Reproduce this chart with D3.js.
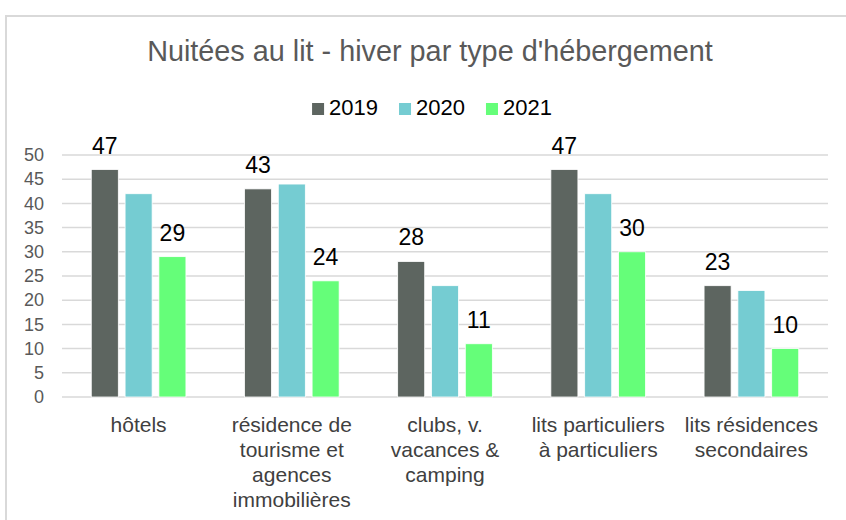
<!DOCTYPE html>
<html>
<head>
<meta charset="utf-8">
<script src="https://cdn.jsdelivr.net/npm/d3@7"></script>
<style>
  body { margin: 0; background: #fff; }
  svg { display: block; font-family: "Liberation Sans", Arial, sans-serif; }
</style>
</head>
<body>
<div id="chart"></div>
<script>
// data
var categories = ["hôtels", "résidence de tourisme et agences immobilières", "clubs, v. vacances & camping", "lits particuliers à particuliers", "lits résidences secondaires"];
// wrapped label lines, as in the picture
var categoryLines = [
    ["hôtels"],
    ["résidence de", "tourisme et", "agences", "immobilières"],
    ["clubs, v.", "vacances &", "camping"],
    ["lits particuliers", "à particuliers"],
    ["lits résidences", "secondaires"]
];
var years = ["2019", "2020", "2021"];
var values2019 = [47, 43, 28, 47, 23];
var values2020 = [42, 44, 23, 42, 22];
var values2021 = [29, 24, 11, 30, 10];
var yTicks = [0, 5, 10, 15, 20, 25, 30, 35, 40, 45, 50];
var labelledYears = ["2019", "2021"];   // only these carry data labels

var colors = {"2019": "#5d6560", "2020": "#75ccd2", "2021": "#65fe79"};

var width = 846, height = 520;
var plot = {left: 62, right: 828, top: 155, bottom: 397};

var svg = d3.select("#chart").append("svg")
    .attr("width", width)
    .attr("height", height);

// outer frame (runs off the right and bottom)
svg.append("rect")
    .attr("x", 6).attr("y", 16)
    .attr("width", 900).attr("height", 600)
    .attr("fill", "none")
    .attr("stroke", "#d9d9d9")
    .attr("stroke-width", 2);

// title
svg.append("text")
    .attr("x", 430).attr("y", 61)
    .attr("text-anchor", "middle")
    .attr("font-size", 28.8)
    .attr("fill", "#595959")
    .text("Nuitées au lit - hiver par type d'hébergement");

// scales
var x0 = d3.scaleBand()
    .domain(categories)
    .range([plot.left, plot.right])
    .paddingInner(0.382)
    .paddingOuter(0.191);

var x1 = d3.scaleBand()
    .domain(years)
    .range([0, x0.bandwidth()])
    .paddingInner(0.2);

var yScale = d3.scaleLinear()
    .domain([0, 50])
    .range([plot.bottom, plot.top]);

// gridlines
svg.append("g").selectAll("line")
    .data(yTicks)
    .enter()
    .append("line")
    .attr("x1", plot.left).attr("x2", plot.right)
    .attr("y1", function(d) { return yScale(d); })
    .attr("y2", function(d) { return yScale(d); })
    .attr("stroke", "#d9d9d9")
    .attr("stroke-width", 1.5);

// y axis labels
var yAxis = d3.axisLeft(yScale)
    .tickValues(yTicks)
    .tickSize(0)
    .tickPadding(0);
var yg = svg.append("g")
    .attr("transform", "translate(44,0)")
    .call(yAxis);
yg.select(".domain").remove();
yg.selectAll("text")
    .attr("font-size", 18)
    .attr("font-family", "Liberation Sans, Arial, sans-serif")
    .attr("fill", "#595959");

// bars
var seriesValues = {"2019": values2019, "2020": values2020, "2021": values2021};
var rows = [];
categories.forEach(function(c, i) {
    years.forEach(function(yr) {
        rows.push({cat: c, year: yr, value: seriesValues[yr][i]});
    });
});

svg.append("g").selectAll("rect")
    .data(rows)
    .enter()
    .append("rect")
    .attr("x", function(d) { return x0(d.cat) + x1(d.year); })
    .attr("y", function(d) { return yScale(d.value); })
    .attr("width", x1.bandwidth())
    .attr("height", function(d) { return plot.bottom - yScale(d.value); })
    .attr("fill", function(d) { return colors[d.year]; })
    .attr("stroke", "#ffffff")
    .attr("stroke-width", 0.8);

// data labels
svg.append("g").selectAll("text")
    .data(rows.filter(function(d) { return labelledYears.indexOf(d.year) >= 0; }))
    .enter()
    .append("text")
    .attr("x", function(d) { return x0(d.cat) + x1(d.year) + x1.bandwidth() / 2; })
    .attr("y", function(d) { return yScale(d.value) - 16; })
    .attr("text-anchor", "middle")
    .attr("font-size", 23)
    .attr("fill", "#000")
    .text(function(d) { return d.value; });

// category labels
var catG = svg.append("g").selectAll("text")
    .data(categories)
    .enter()
    .append("text")
    .attr("text-anchor", "middle")
    .attr("font-size", 21)
    .attr("fill", "#404040");
catG.each(function(c, i) {
    var t = d3.select(this);
    categoryLines[i].forEach(function(line, j) {
        t.append("tspan")
            .attr("x", x0(c) + x0.bandwidth() / 2)
            .attr("y", 432 + j * 25)
            .text(line);
    });
});

// legend
var legend = svg.append("g");
var lx = 0;
years.forEach(function(yr) {
    legend.append("rect")
        .attr("x", lx).attr("y", 103)
        .attr("width", 12).attr("height", 12)
        .attr("fill", colors[yr]);
    var t = legend.append("text")
        .attr("x", lx + 17).attr("y", 115)
        .attr("font-size", 22)
        .attr("fill", "#000")
        .text(yr);
    lx += 17 + t.node().getComputedTextLength() + 21;
});
var legendW = lx - 21;
legend.attr("transform", "translate(" + (432 - legendW / 2) + ",0)");
</script>
</body>
</html>
